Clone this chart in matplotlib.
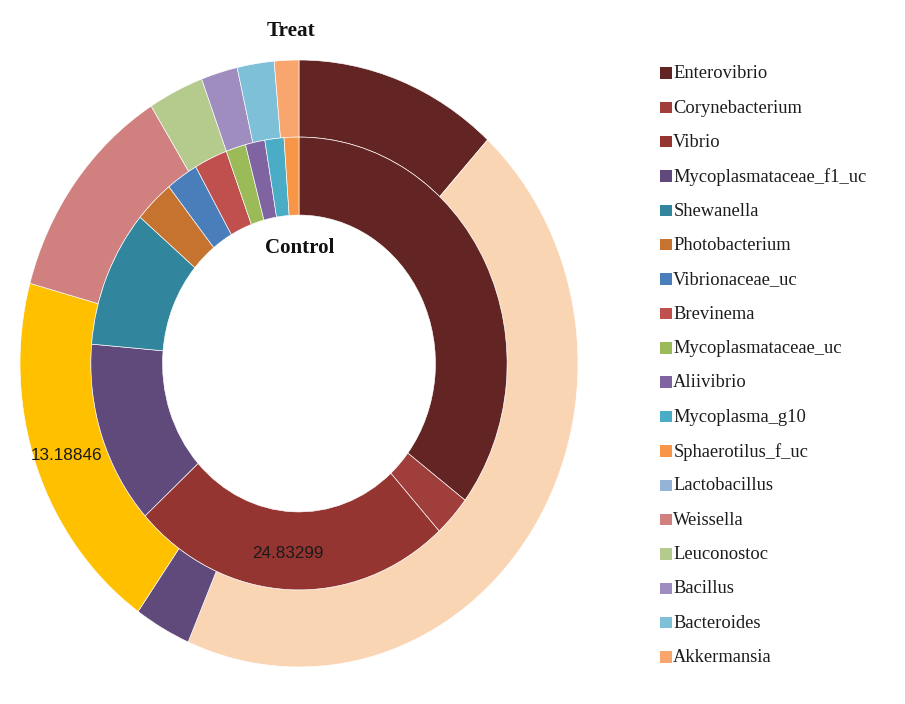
import matplotlib
matplotlib.use("Agg")
import matplotlib.pyplot as plt
import numpy as np

# Treat ring (outer), clockwise from 12 o'clock
treat_names = ["Enterovibrio", "Other A", "Mycoplasmataceae_f1_uc", "Other B",
               "Weissella", "Leuconostoc", "Bacillus", "Bacteroides", "Akkermansia"]
treat_values = [8.00, 30.27, 2.22, 13.18846, 8.03, 2.18, 1.43, 1.45, 0.96]
treat_colors = ["#632523", "#FAD5B4", "#604A7B", "#FFC000",
                "#D0807F", "#B4CB8D", "#A08DBF", "#7DC0D7", "#F8A66E"]

# Control ring (inner), clockwise from 12 o'clock
control_names = ["Enterovibrio", "Corynebacterium", "Vibrio", "Mycoplasmataceae_f1_uc",
                 "Shewanella", "Photobacterium", "Vibrionaceae_uc", "Brevinema",
                 "Mycoplasmataceae_uc", "Aliivibrio", "Mycoplasma_g10", "Sphaerotilus_f_uc"]
control_values = [35.08, 2.92, 24.83299, 13.03, 9.75, 3.06, 2.47, 2.56, 1.53, 1.50, 1.47, 1.14]
control_colors = ["#632523", "#A03E3C", "#953532", "#604A7B", "#31859C", "#C5732F",
                  "#4A7EBB", "#C0504D", "#9BBB59", "#8064A2", "#4BACC6", "#F79646"]

legend_names = ["Enterovibrio", "Corynebacterium", "Vibrio", "Mycoplasmataceae_f1_uc",
                "Shewanella", "Photobacterium", "Vibrionaceae_uc", "Brevinema",
                "Mycoplasmataceae_uc", "Aliivibrio", "Mycoplasma_g10", "Sphaerotilus_f_uc",
                "Lactobacillus", "Weissella", "Leuconostoc", "Bacillus", "Bacteroides",
                "Akkermansia"]
legend_colors = ["#632523", "#A03E3C", "#953532", "#604A7B", "#31859C", "#C5732F",
                 "#4A7EBB", "#C0504D", "#9BBB59", "#8064A2", "#4BACC6", "#F79646",
                 "#95B3D7", "#D0807F", "#B4CB8D", "#A08DBF", "#7DC0D7", "#F8A66E"]

# labelled slices: (ring, index)
labelled = [("treat", 3), ("control", 2)]

W, H = 905, 704
fig = plt.figure(figsize=(W / 100, H / 100), dpi=100)

# pie axes, placed in pixels (image is slightly stretched vertically)
cx, cy = 299, 363.5
rx, ry = 279, 303.5
lim = 1.05
ax = fig.add_axes([(cx - lim * rx) / W, (H - cy - lim * ry) / H,
                   2 * lim * rx / W, 2 * lim * ry / H])

wp = dict(edgecolor="white", linewidth=0.45)
outer, _ = ax.pie(treat_values, radius=1.0, colors=treat_colors, startangle=90,
                  counterclock=False, wedgeprops=dict(width=0.254, **wp))
inner, _ = ax.pie(control_values, radius=0.746, colors=control_colors, startangle=90,
                  counterclock=False, wedgeprops=dict(width=0.257, **wp))
ax.set_aspect("auto")
ax.set_xlim(-lim, lim)
ax.set_ylim(-lim, lim)
ax.axis("off")

for ring, i in labelled:
    if ring == "treat":
        w, val, r = outer[i], treat_values[i], 1.0 - 0.254 / 2
    else:
        w, val, r = inner[i], control_values[i], 0.746 - 0.257 / 2
    mid = np.deg2rad((w.theta1 + w.theta2) / 2)
    ax.text(r * np.cos(mid) - 0.01, r * np.sin(mid) - 0.01, f"{val:.5f}",
            ha="center", va="center", fontsize=12.3, family="Liberation Sans",
            color="#1a1a1a")

ax.text(-0.03, 1.095, "Treat", ha="center", va="center", fontsize=15.3,
        family="Liberation Serif", weight="bold", color="#111111")
ax.text(0.003, 0.382, "Control", ha="center", va="center", fontsize=15.1,
        family="Liberation Serif", weight="bold", color="#111111")

# legend column
row = (657 - 73) / 17
lax = fig.add_axes([650 / W, (H - 657 - row / 2) / H, 250 / W, (row * 18) / H])
lax.set_xlim(0, 1)
lax.set_ylim(len(legend_names) - 0.5, -0.5)
lax.axis("off")
ys = np.arange(len(legend_names))
lax.scatter(np.full(len(ys), 0.064), ys, marker="s", s=68, c=legend_colors, linewidths=0)
for y, name in zip(ys, legend_names):
    lax.text(0.093, y + 0.02, name, ha="left", va="center", fontsize=13.3,
             family="Liberation Serif", color="#1c1c1c")

fig.savefig("out.png", dpi=100)
